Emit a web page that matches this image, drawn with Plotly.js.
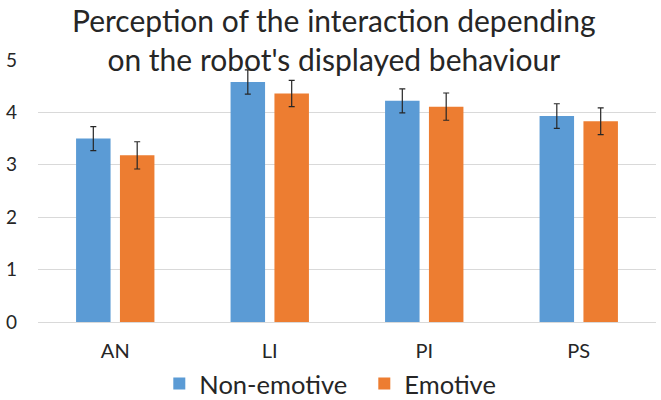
<!DOCTYPE html>
<html>
<head>
<meta charset="utf-8">
<script src="https://cdn.plot.ly/plotly-3.0.1.min.js"></script>
<style>html,body{margin:0;padding:0;background:#fff;}#chart{width:661px;height:400px;}</style>
</head>
<body>
<div id="chart"></div>
<script>
var categories = ['AN', 'LI', 'PI', 'PS'];
var nonEmotive = [3.50, 4.58, 4.22, 3.93];
var nonEmotiveErr = [0.23, 0.23, 0.23, 0.235];
var emotive = [3.18, 4.36, 4.11, 3.83];
var emotiveErr = [0.26, 0.25, 0.26, 0.255];
var yTicks = [0, 1, 2, 3, 4, 5];

var FONT = 'Lato, "Open Sans", sans-serif';
var TXT = '#262626';

var traces = [
  {
    type: 'bar', name: 'Non-emotive', x: categories, y: nonEmotive,
    marker: {color: '#5B9BD5'},
    error_y: {type: 'data', array: nonEmotiveErr, visible: true, color: '#262626', thickness: 1.2, width: 3}
  },
  {
    type: 'bar', name: 'Emotive', x: categories, y: emotive,
    marker: {color: '#ED7D31'},
    error_y: {type: 'data', array: emotiveErr, visible: true, color: '#262626', thickness: 1.2, width: 3}
  }
];

var layout = {
  width: 661, height: 400,
  margin: {l: 38, r: 5, t: 60, b: 78, autoexpand: false},
  paper_bgcolor: '#fff', plot_bgcolor: '#fff',
  font: {family: FONT, color: TXT},
  title: {
    text: 'Perception of the interaction depending<br>on the robot\'s displayed behaviour',
    font: {family: FONT, size: 30, color: TXT},
    x: 0.505, xref: 'container', xanchor: 'center',
    y: 0.92, yref: 'container', yanchor: 'middle'
  },
  barmode: 'group', bargap: 0.432, bargroupgap: 0.214,
  xaxis: {
    type: 'category', showgrid: false, showline: false, zeroline: false,
    ticks: '', tickfont: {family: FONT, size: 20, color: TXT}, ticklabelstandoff: 15
  },
  yaxis: {
    range: [0, 5], tickvals: yTicks, showgrid: true, gridcolor: '#D9D9D9', gridwidth: 1,
    zeroline: true, zerolinecolor: '#D9D9D9', zerolinewidth: 1, showline: false,
    ticks: '', tickfont: {family: FONT, size: 19, color: TXT}, ticklabelstandoff: 20
  },
  showlegend: true,
  legend: {
    orientation: 'h', xanchor: 'center', x: 0.528, yref: 'container', yanchor: 'middle', y: 0.04,
    entrywidth: 160, entrywidthmode: 'pixels',
    font: {family: FONT, size: 25.5, color: TXT}, bgcolor: 'rgba(0,0,0,0)'
  }
};

Plotly.newPlot('chart', traces, layout, {displayModeBar: false, staticPlot: true});
</script>
</body>
</html>
